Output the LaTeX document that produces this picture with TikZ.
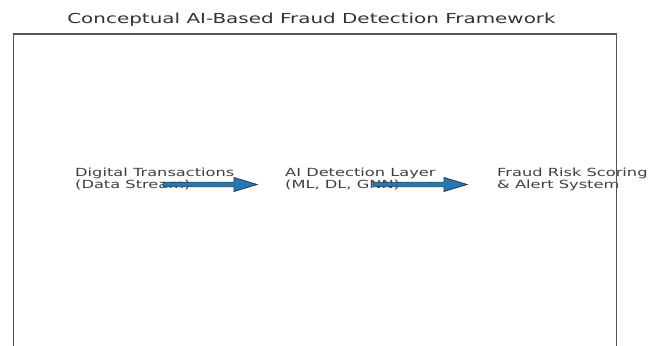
\documentclass[tikz,border=0pt]{standalone}
\usepackage{fontspec}
\usetikzlibrary{calc}
\newfontfamily\wideface[FakeStretch=1.45]{DejaVu Sans}
\definecolor{arrowblue}{RGB}{40,120,176}
\definecolor{arrowedge}{RGB}{26,60,90}
\definecolor{framegray}{RGB}{85,85,85}
\tikzset{
  label text/.style={inner sep=0pt, anchor=base west, align=left,
    font=\wideface\fontsize{11.2}{12}\selectfont, text=black!75},
  title text/.style={inner sep=0pt, anchor=base,
    font=\wideface\fontsize{13.75}{15}\selectfont, text=black!80},
  flow arrow/.style={fill=arrowblue, draw=arrowedge, line width=0.8pt, line join=miter},
  frame line/.style={draw=framegray, line width=1.3pt}
}
\begin{document}
\begin{tikzpicture}[x=1pt, y=-1pt]
\useasboundingbox (0,0) rectangle (652,345);
\fill[white] (0,0) rectangle (652,345);

% title
\node[title text] (title) at (311.5,24) {Conceptual AI-Based Fraud Detection Framework};

% stage labels (base anchor sits on the second line)
\node[label text] (src) at (75,188) {Digital Transactions\\(Data Stream)};
\node[label text] (ai) at (285,188) {AI Detection Layer\\(ML, DL, GNN)};
\node[label text] (risk) at (497,188) {Fraud Risk Scoring\\\& Alert System};

% arrow end points
\coordinate (a1s) at (163,184.5);
\coordinate (a1e) at (257,184.5);
\coordinate (a2s) at (373,184.5);
\coordinate (a2e) at (467,184.5);

% block arrows between the stages
\foreach \s/\e in {a1s/a1e, a2s/a2e}{
  \filldraw[flow arrow]
    ($(\s)+(0,-2.2)$) -- ($(\e)+(-23,-2.2)$) -- ($(\e)+(-23,-7)$) -- (\e)
    -- ($(\e)+(-23,7)$) -- ($(\e)+(-23,2.2)$) -- ($(\s)+(0,2.2)$) -- cycle;
}

% axes frame, open at the bottom edge
\draw[frame line] (13.5,350) -- (13.5,34) -- (616.5,34) -- (616.5,350);
\end{tikzpicture}
\end{document}
